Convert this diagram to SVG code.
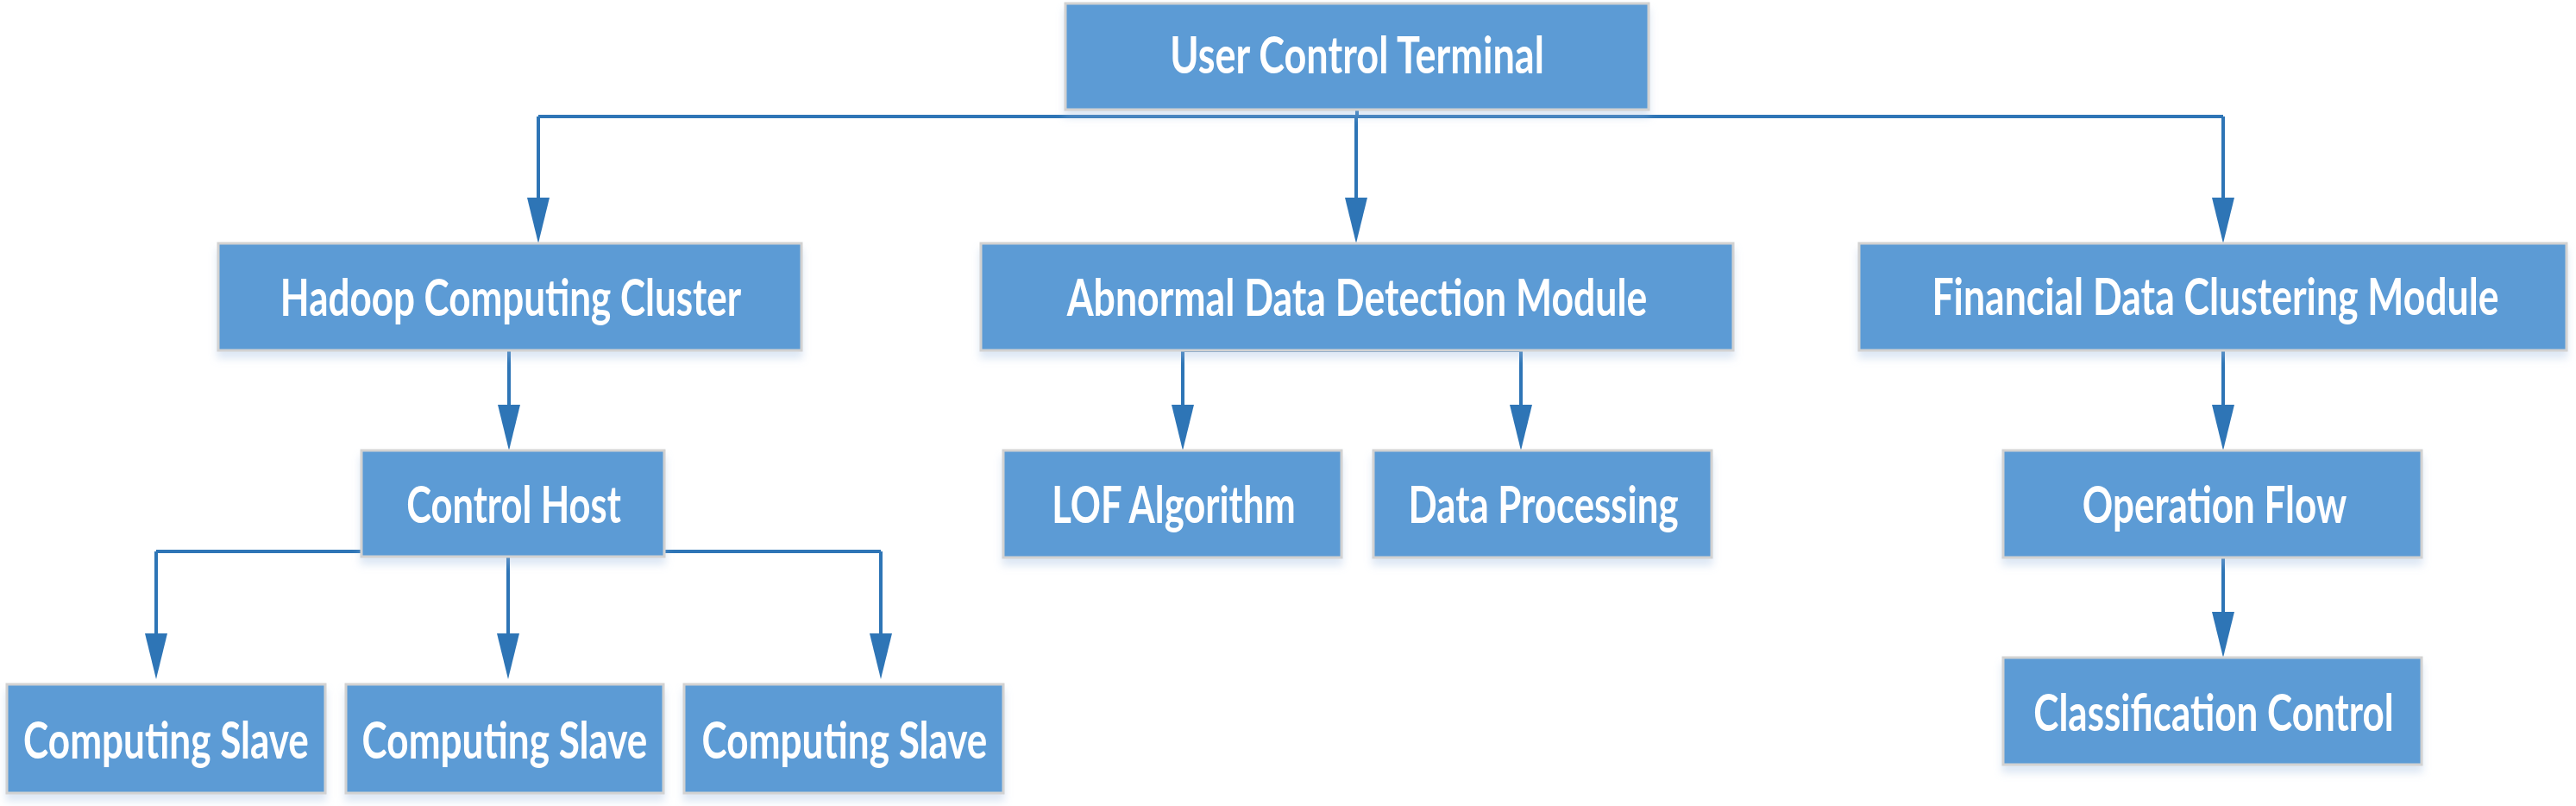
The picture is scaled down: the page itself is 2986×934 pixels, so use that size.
<svg xmlns="http://www.w3.org/2000/svg" width="2986" height="934" viewBox="0 0 2986 934">
<style>
.box{fill:#5B9BD5;stroke:#D2D2D2;stroke-width:3;filter:url(#sh)}
.lbl{font-family:"Lato","Open Sans","Liberation Sans",sans-serif;font-weight:700;font-size:60px;fill:#FFFFFF;text-anchor:middle}
.con{fill:none;stroke:#2E75B6;stroke-width:4}
.arr{fill:none;stroke:#2E75B6;stroke-width:4;marker-end:url(#ah)}
</style>
<defs>
<filter id="sh" x="-5%" y="-10%" width="110%" height="140%">
<feDropShadow dx="0" dy="8" stdDeviation="5" flood-color="#9DBBE0" flood-opacity="0.35"/>
</filter>
<marker id="ah" markerUnits="userSpaceOnUse" markerWidth="60" markerHeight="30" viewBox="0 -15 56 30" refX="43" refY="0" orient="auto">
<path d="M0,-13 L53,0 L0,13 z" fill="#2E75B6"/>
</marker>
</defs>
<rect width="2986" height="934" fill="#FFFFFF"/>
<g id="connectors">
<path class="con" d="M624,135 H2577"/>
<path class="con" d="M1573,127 V135"/>
<path class="arr" d="M624,135 V272"/>
<path class="arr" d="M1572,135 V272"/>
<path class="arr" d="M2577,135 V272"/>
<path class="arr" d="M590,406 V512"/>
<path class="con" d="M181,639 H419 M770,639 H1021"/>
<path class="arr" d="M181,639 V777"/>
<path class="arr" d="M589,639 V777"/>
<path class="arr" d="M1021,639 V777"/>
<path class="con" d="M1371,406 H1763"/>
<path class="arr" d="M1371,406 V512"/>
<path class="arr" d="M1763,406 V512"/>
<path class="arr" d="M2577,406 V512"/>
<path class="arr" d="M2577,646 V752"/>
</g>
<g id="user-control-terminal">
<rect class="box" x="1235" y="4" width="676" height="123"/>
<text class="lbl" transform="translate(1573,85) scale(0.74,1)" x="0" y="0" textLength="586" lengthAdjust="spacingAndGlyphs">User Control Terminal</text>
</g>
<g id="hadoop-computing-cluster">
<rect class="box" x="253" y="282" width="676" height="124"/>
<text class="lbl" transform="translate(592,366) scale(0.74,1)" x="0" y="0" textLength="722" lengthAdjust="spacingAndGlyphs">Hadoop Computing Cluster</text>
</g>
<g id="abnormal-data-detection-module">
<rect class="box" x="1137" y="282" width="872" height="124"/>
<text class="lbl" transform="translate(1573,366) scale(0.74,1)" x="0" y="0" textLength="909" lengthAdjust="spacingAndGlyphs">Abnormal Data Detection Module</text>
</g>
<g id="financial-data-clustering-module">
<rect class="box" x="2155" y="282" width="820" height="124"/>
<text class="lbl" transform="translate(2568,365) scale(0.74,1)" x="0" y="0" textLength="888" lengthAdjust="spacingAndGlyphs">Financial Data Clustering Module</text>
</g>
<g id="control-host">
<rect class="box" x="419" y="522" width="351" height="123"/>
<text class="lbl" transform="translate(595.5,606) scale(0.74,1)" x="0" y="0" textLength="336" lengthAdjust="spacingAndGlyphs">Control Host</text>
</g>
<g id="lof-algorithm">
<rect class="box" x="1163" y="522" width="392" height="124"/>
<text class="lbl" transform="translate(1360.5,606) scale(0.74,1)" x="0" y="0" textLength="382" lengthAdjust="spacingAndGlyphs">LOF Algorithm</text>
</g>
<g id="data-processing">
<rect class="box" x="1592" y="522" width="392" height="124"/>
<text class="lbl" transform="translate(1789,606) scale(0.74,1)" x="0" y="0" textLength="423" lengthAdjust="spacingAndGlyphs">Data Processing</text>
</g>
<g id="operation-flow">
<rect class="box" x="2322" y="522" width="485" height="124"/>
<text class="lbl" transform="translate(2567,606) scale(0.74,1)" x="0" y="0" textLength="414" lengthAdjust="spacingAndGlyphs">Operation Flow</text>
</g>
<g id="classification-control">
<rect class="box" x="2322" y="762" width="485" height="124"/>
<text class="lbl" transform="translate(2566,847) scale(0.74,1)" x="0" y="0" textLength="564" lengthAdjust="spacingAndGlyphs">Classification Control</text>
</g>
<g id="computing-slave-1">
<rect class="box" x="8" y="793" width="369" height="126"/>
<text class="lbl" transform="translate(192.5,879) scale(0.74,1)" x="0" y="0" textLength="447" lengthAdjust="spacingAndGlyphs">Computing Slave</text>
</g>
<g id="computing-slave-2">
<rect class="box" x="401" y="793" width="368" height="126"/>
<text class="lbl" transform="translate(585,879) scale(0.74,1)" x="0" y="0" textLength="447" lengthAdjust="spacingAndGlyphs">Computing Slave</text>
</g>
<g id="computing-slave-3">
<rect class="box" x="793" y="793" width="370" height="126"/>
<text class="lbl" transform="translate(979,879) scale(0.74,1)" x="0" y="0" textLength="447" lengthAdjust="spacingAndGlyphs">Computing Slave</text>
</g>
</svg>
